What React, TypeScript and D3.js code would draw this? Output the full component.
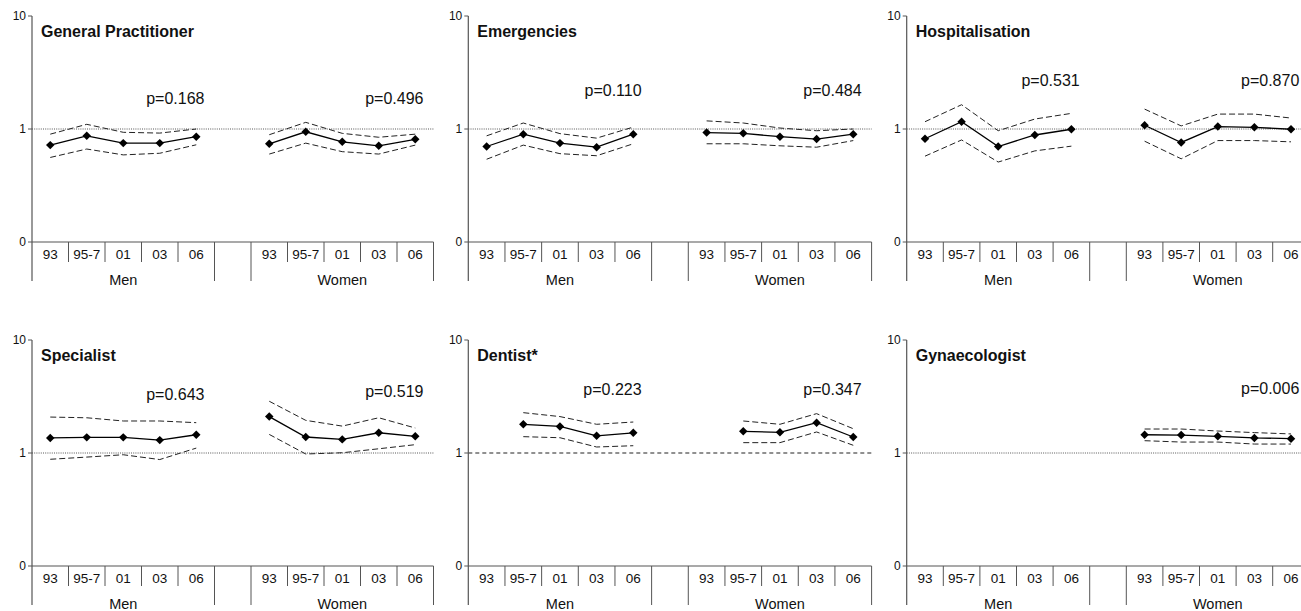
import * as d3 from "d3";

// slot layout on every x axis: five survey years for men, an empty slot, five for women
const SLOTS = ["m93", "m95", "m01", "m03", "m06", "gap", "w93", "w95", "w01", "w03", "w06"];
const MEN_SLOTS = SLOTS.slice(0, 5);
const WOMEN_SLOTS = SLOTS.slice(6);
const YEAR_LABELS = ["93", "95-7", "01", "03", "06"];
const GROUP_LABELS = ["Men", "Women"];
const Y_TICKS = [0.1, 1, 10];
const Y_TICK_LABELS = ["0", "1", "10"];

type S = number | null;

// General Practitioner
const gpMenOR: S[] = [0.72, 0.87, 0.75, 0.75, 0.855];
const gpMenLo: S[] = [0.56, 0.665, 0.59, 0.61, 0.725];
const gpMenHi: S[] = [0.9, 1.1, 0.935, 0.92, 1.0];
const gpWomenOR: S[] = [0.74, 0.945, 0.77, 0.71, 0.81];
const gpWomenLo: S[] = [0.6, 0.75, 0.63, 0.6, 0.72];
const gpWomenHi: S[] = [0.89, 1.145, 0.915, 0.845, 0.9];

// Emergencies
const emMenOR: S[] = [0.7, 0.9, 0.75, 0.69, 0.9];
const emMenLo: S[] = [0.54, 0.72, 0.605, 0.58, 0.74];
const emMenHi: S[] = [0.87, 1.13, 0.91, 0.83, 1.04];
const emWomenOR: S[] = [0.93, 0.915, 0.855, 0.815, 0.9];
const emWomenLo: S[] = [0.74, 0.74, 0.71, 0.69, 0.79];
const emWomenHi: S[] = [1.18, 1.13, 1.02, 0.965, 1.0];

// Hospitalisation
const hoMenOR: S[] = [0.82, 1.16, 0.7, 0.885, 0.995];
const hoMenLo: S[] = [0.575, 0.8, 0.51, 0.64, 0.705];
const hoMenHi: S[] = [1.16, 1.64, 0.965, 1.225, 1.375];
const hoWomenOR: S[] = [1.08, 0.76, 1.05, 1.035, 0.995];
const hoWomenLo: S[] = [0.78, 0.545, 0.79, 0.79, 0.77];
const hoWomenHi: S[] = [1.5, 1.065, 1.355, 1.355, 1.25];

// Specialist
const spMenOR: S[] = [1.36, 1.375, 1.375, 1.3, 1.45];
const spMenLo: S[] = [0.88, 0.92, 0.965, 0.875, 1.105];
const spMenHi: S[] = [2.08, 2.05, 1.92, 1.92, 1.855];
const spWomenOR: S[] = [2.1, 1.385, 1.32, 1.51, 1.405];
const spWomenLo: S[] = [1.46, 0.98, 1.005, 1.09, 1.185];
const spWomenHi: S[] = [2.87, 1.945, 1.73, 2.05, 1.665];

// Dentist* (no 1993 data)
const deMenOR: S[] = [null, 1.795, 1.72, 1.42, 1.51];
const deMenLo: S[] = [null, 1.395, 1.365, 1.13, 1.16];
const deMenHi: S[] = [null, 2.275, 2.1, 1.795, 1.88];
const deWomenOR: S[] = [null, 1.555, 1.525, 1.855, 1.385];
const deWomenLo: S[] = [null, 1.235, 1.235, 1.535, 1.17];
const deWomenHi: S[] = [null, 1.92, 1.795, 2.23, 1.64];

// Gynaecologist (women only)
const gyWomenOR: S[] = [1.45, 1.44, 1.405, 1.36, 1.34];
const gyWomenLo: S[] = [1.285, 1.25, 1.25, 1.2, 1.2];
const gyWomenHi: S[] = [1.63, 1.63, 1.565, 1.515, 1.475];

const TITLES = ["General Practitioner", "Emergencies", "Hospitalisation", "Specialist", "Dentist*", "Gynaecologist"];
const P_MEN = ["p=0.168", "p=0.110", "p=0.531", "p=0.643", "p=0.223", null];
const P_WOMEN = ["p=0.496", "p=0.484", "p=0.870", "p=0.519", "p=0.347", "p=0.006"];
// height of the p labels, in odds-ratio units
const P_MEN_AT = [1.65, 1.94, 2.4, 2.92, 3.28, null];
const P_WOMEN_AT = [1.65, 1.94, 2.4, 3.1, 3.28, 3.35];

const SERIES: { men: S[][] | null; women: S[][] | null }[] = [
  { men: [gpMenOR, gpMenLo, gpMenHi], women: [gpWomenOR, gpWomenLo, gpWomenHi] },
  { men: [emMenOR, emMenLo, emMenHi], women: [emWomenOR, emWomenLo, emWomenHi] },
  { men: [hoMenOR, hoMenLo, hoMenHi], women: [hoWomenOR, hoWomenLo, hoWomenHi] },
  { men: [spMenOR, spMenLo, spMenHi], women: [spWomenOR, spWomenLo, spWomenHi] },
  { men: [deMenOR, deMenLo, deMenHi], women: [deWomenOR, deWomenLo, deWomenHi] },
  { men: null, women: [gyWomenOR, gyWomenLo, gyWomenHi] },
];

const WIDTH = 1301;
const HEIGHT = 611;
const COL_LEFT = [32, 468.3, 906.7];
const COL_WIDTH = [401.5, 403.3, 402.6];
const ROW_TOP = [16, 340];
const PLOT_H = 226;
const FONT = "'Liberation Sans', Arial, Helvetica, sans-serif";
const AXIS = "#555";

const diamond = d3.symbol(d3.symbolSquare, 36)()!;

function Panel({ index }: { index: number }) {
  const col = index % 3;
  const row = Math.floor(index / 3);
  const left = COL_LEFT[col];
  const right = left + COL_WIDTH[col];
  const top = ROW_TOP[row];
  const bottom = top + PLOT_H;

  const x = d3.scaleBand<string>().domain(SLOTS).range([left, right]).padding(0);
  const y = d3.scaleLog().domain([0.1, 10]).range([bottom, top]);
  const cx = (k: string) => (x(k) || 0) + x.bandwidth() / 2;

  const line = d3
    .line<[string, S]>()
    .defined((d) => d[1] != null)
    .x((d) => cx(d[0]))
    .y((d) => y(d[1] as number));

  const groups = [
    { slots: MEN_SLOTS, data: SERIES[index].men },
    { slots: WOMEN_SLOTS, data: SERIES[index].women },
  ];

  const bounds = d3.range(SLOTS.length + 1).map((i) => left + i * x.bandwidth());
  const longBounds = new Set([0, 5, 6, 11]);
  const dentist = index === 4;

  const pLabels = [
    { text: P_MEN[index], at: P_MEN_AT[index], slot: "m06" },
    { text: P_WOMEN[index], at: P_WOMEN_AT[index], slot: "w06" },
  ];

  return (
    <g>
      {/* reference line at OR = 1 */}
      <line
        x1={left}
        x2={right}
        y1={y(1)}
        y2={y(1)}
        stroke={dentist ? "#222" : "#444"}
        strokeWidth={dentist ? 1.2 : 0.9}
        strokeDasharray={dentist ? "4,3" : "1,1.2"}
      />

      {/* y axis */}
      <line x1={left} x2={left} y1={top} y2={bottom + 39} stroke={AXIS} strokeWidth={1.2} />
      {Y_TICKS.map((t, i) => (
        <g key={t}>
          <line x1={left - 4} x2={left} y1={y(t)} y2={y(t)} stroke={AXIS} strokeWidth={1} />
          <text
            x={left - 6}
            y={y(t)}
            dy="0.35em"
            textAnchor="end"
            fontSize={12}
            fontFamily={FONT}
            fill="#111"
          >
            {Y_TICK_LABELS[i]}
          </text>
        </g>
      ))}

      {/* x axis with slot separators */}
      <line x1={left} x2={right} y1={bottom} y2={bottom} stroke={AXIS} strokeWidth={1.2} />
      {bounds.map((bx, i) =>
        i === 0 ? null : (
          <line
            key={i}
            x1={bx}
            x2={bx}
            y1={bottom}
            y2={bottom + (longBounds.has(i) ? 39 : 20)}
            stroke={AXIS}
            strokeWidth={1}
          />
        )
      )}
      {[MEN_SLOTS, WOMEN_SLOTS].map((slots, g) => (
        <g key={g}>
          {slots.map((k, i) => (
            <text
              key={k}
              x={cx(k)}
              y={bottom + 17}
              textAnchor="middle"
              fontSize={13.5}
              fontFamily={FONT}
              fill="#111"
            >
              {YEAR_LABELS[i]}
            </text>
          ))}
          <text
            x={((x(slots[0]) || 0) + (x(slots[4]) || 0) + x.bandwidth()) / 2}
            y={bottom + 43}
            textAnchor="middle"
            fontSize={14.5}
            fontFamily={FONT}
            fill="#111"
          >
            {GROUP_LABELS[g]}
          </text>
        </g>
      ))}

      {/* title */}
      <text x={left + 9} y={top + 21} fontSize={16} fontWeight="bold" fontFamily={FONT} fill="#111">
        {TITLES[index]}
      </text>

      {/* p values */}
      {pLabels.map((p, i) =>
        p.text && p.at ? (
          <text
            key={i}
            x={(x(p.slot) || 0) + x.bandwidth() - 10}
            y={y(p.at)}
            textAnchor="end"
            fontSize={16}
            fontFamily={FONT}
            fill="#111"
          >
            {p.text}
          </text>
        ) : null
      )}

      {/* series */}
      {groups.map((grp, g) => {
        if (!grp.data) return null;
        const [or, lo, hi] = grp.data;
        const pts = (vals: S[]) => grp.slots.map((k, i) => [k, vals[i]] as [string, S]);
        return (
          <g key={g}>
            {[lo, hi].map((vals, j) => (
              <path
                key={j}
                d={line(pts(vals)) || ""}
                fill="none"
                stroke="#222"
                strokeWidth={1}
                strokeDasharray="6,3"
              />
            ))}
            <path d={line(pts(or)) || ""} fill="none" stroke="#000" strokeWidth={1.3} />
            {pts(or)
              .filter((d) => d[1] != null)
              .map((d) => (
                <path
                  key={d[0]}
                  d={diamond}
                  transform={`translate(${cx(d[0])},${y(d[1] as number)}) rotate(45)`}
                  fill="#000"
                />
              ))}
          </g>
        );
      })}
    </g>
  );
}

export default function App() {
  return (
    <svg
      width={WIDTH}
      height={HEIGHT}
      style={{ position: "absolute", left: 0, top: 0, background: "#fff" }}
    >
      <rect width={WIDTH} height={HEIGHT} fill="#fff" />
      {TITLES.map((t, i) => (
        <Panel key={t} index={i} />
      ))}
    </svg>
  );
}
